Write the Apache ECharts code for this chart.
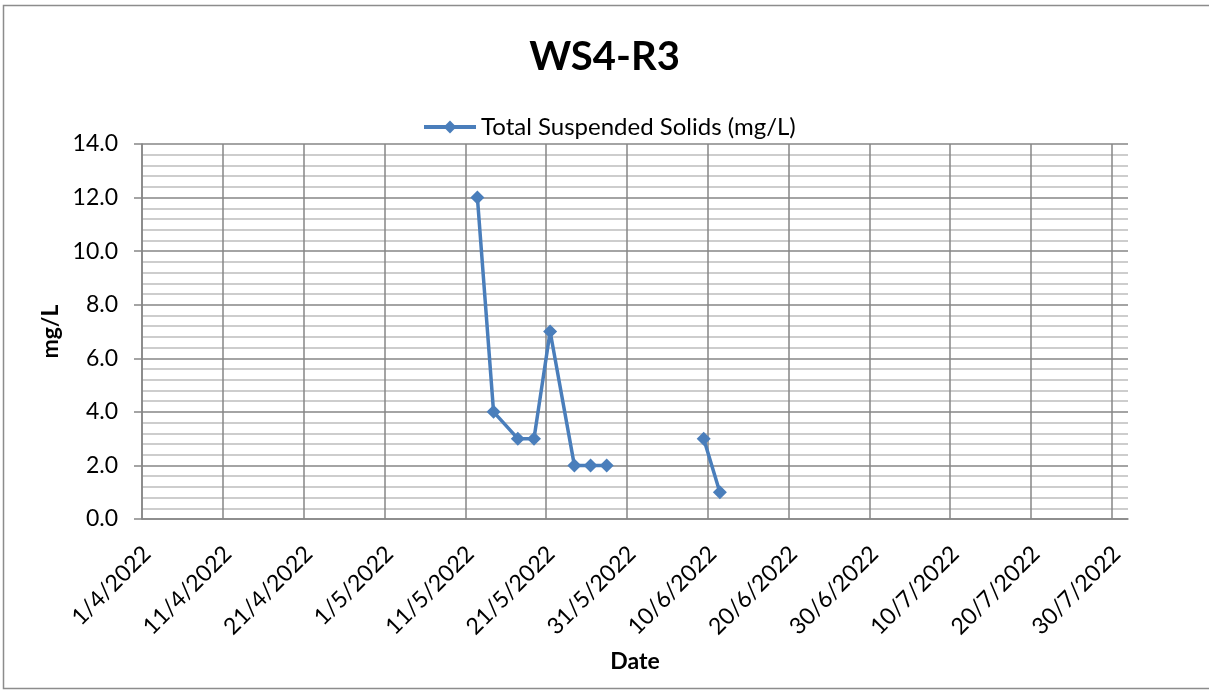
<!DOCTYPE html>
<html>
<head>
<meta charset="utf-8">
<title>WS4-R3</title>
<script src="https://cdn.jsdelivr.net/npm/echarts@6/dist/echarts.min.js"></script>
<style>
  html, body { margin: 0; padding: 0; background: #ffffff; }
  #chart { width: 1209px; height: 691px; }
</style>
</head>
<body>
<div id="chart"></div>
<script>
// Sampling dates (null marks a gap in the record, which breaks the line)
const sampleDates = ['2022-05-12', '2022-05-14', '2022-05-17', '2022-05-19', '2022-05-21',
                     '2022-05-24', '2022-05-26', '2022-05-28', null, '2022-06-09', '2022-06-11'];
// Total Suspended Solids (mg/L)
const tssValues = [12, 4, 3, 3, 7, 2, 2, 2, null, 3, 1];

const chartTitle = 'WS4-R3';
const seriesName = 'Total Suspended Solids (mg/L)';
const yAxisName = 'mg/L';
const xAxisName = 'Date';

// Date axis range: 1/4/2022 up to the end of 31/7/2022, labelled every 10 days
const axisStart = '2022-04-01';
const axisEnd = '2022-08-01';
const dayStep = 10;

const DAY = 86400000;
const startMs = Date.parse(axisStart + 'T00:00:00Z');
const spanDays = (Date.parse(axisEnd + 'T00:00:00Z') - startMs) / DAY;

// Each day occupies one slot on the axis; a reading sits in the middle of its day's slot.
function dayPosition(dateStr) {
  if (dateStr === null) return NaN;
  return (Date.parse(dateStr + 'T00:00:00Z') - startMs) / DAY + 0.5;
}
function dayLabel(v) {
  const d = new Date(startMs + v * DAY);
  return d.getUTCDate() + '/' + (d.getUTCMonth() + 1) + '/' + d.getUTCFullYear();
}

const seriesData = sampleDates.map((d, i) => [dayPosition(d), tssValues[i]]);

const FONT = 'Lato, "Open Sans", sans-serif';
const LINE_BLUE = '#4a7ebb';
const GRID_GREY = '#868686';

const chart = echarts.init(document.getElementById('chart'), null, { renderer: 'canvas' });

chart.setOption({
  backgroundColor: '#ffffff',
  animation: false,
  title: {
    text: chartTitle,
    left: 'center',
    top: 32,
    textStyle: { fontFamily: FONT, fontSize: 40, fontWeight: 'bold', color: '#000000' }
  },
  legend: {
    data: [seriesName],
    left: 417,
    top: 110,
    itemWidth: 52,
    itemHeight: 16,
    lineStyle: { width: 4 },
    textStyle: { fontFamily: FONT, fontSize: 24, color: '#000000' }
  },
  grid: { left: 142, right: 81, top: 144, bottom: 172, containLabel: false },
  xAxis: {
    type: 'value',
    min: 0,
    max: spanDays,
    interval: dayStep,
    name: xAxisName,
    nameLocation: 'middle',
    nameGap: 131,
    nameTextStyle: { fontFamily: FONT, fontSize: 23, fontWeight: 'bold', color: '#000000' },
    axisLine: { show: true, onZero: false, lineStyle: { color: GRID_GREY, width: 1.5 } },
    axisTick: { show: false },
    axisLabel: {
      rotate: 45,
      margin: 26,
      verticalAlign: 'top',
      lineHeight: 14,
      showMaxLabel: false,
      fontFamily: FONT,
      fontSize: 23,
      color: '#000000',
      formatter: dayLabel
    },
    splitLine: { show: true, showMaxLine: false, lineStyle: { color: GRID_GREY, width: 1.5 } }
  },
  yAxis: {
    type: 'value',
    min: 0,
    max: 14,
    interval: 2,
    name: yAxisName,
    nameLocation: 'middle',
    nameGap: 80,
    nameTextStyle: { fontFamily: FONT, fontSize: 23, fontWeight: 'bold', color: '#000000' },
    axisLine: { show: true, lineStyle: { color: GRID_GREY, width: 1.5 } },
    axisTick: { show: true, length: 8, lineStyle: { color: GRID_GREY, width: 1.5 } },
    minorTick: { show: false, splitNumber: 5 },
    axisLabel: {
      margin: 24,
      fontFamily: FONT,
      fontSize: 23,
      color: '#000000',
      formatter: v => v.toFixed(1)
    },
    splitLine: { show: true, lineStyle: { color: GRID_GREY, width: 1.5 } },
    minorSplitLine: { show: true, lineStyle: { color: '#bdbdbd', width: 1.5 } }
  },
  series: [{
    name: seriesName,
    type: 'line',
    data: seriesData,
    connectNulls: false,
    symbol: 'diamond',
    symbolSize: 14,
    color: LINE_BLUE,
    itemStyle: { color: LINE_BLUE },
    lineStyle: { color: LINE_BLUE, width: 3.5 },
    z: 5
  }],
  graphic: [{
    type: 'rect',
    silent: true,
    shape: { x: 3.5, y: 5.5, width: 1212, height: 683 },
    style: { fill: 'none', stroke: '#8c8c8c', lineWidth: 1.5 }
  }]
});
</script>
</body>
</html>
